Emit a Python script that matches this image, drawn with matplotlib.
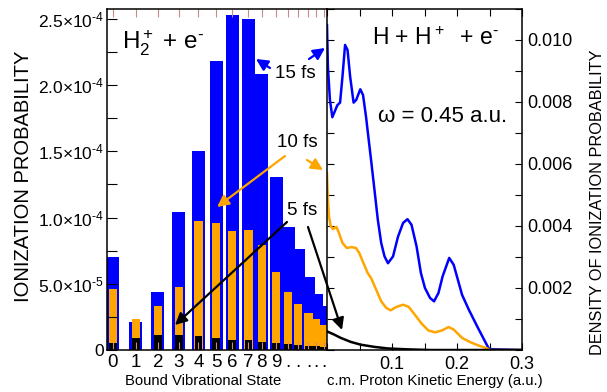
import matplotlib
matplotlib.use('Agg')
import matplotlib.pyplot as plt
from matplotlib.ticker import MultipleLocator

plt.rcParams['font.family'] = ['Liberation Sans', 'DejaVu Sans']
plt.rcParams['mathtext.fontset'] = 'custom'
plt.rcParams['mathtext.rm'] = 'Liberation Sans'
plt.rcParams['mathtext.it'] = 'Liberation Sans:italic'
plt.rcParams['mathtext.bf'] = 'Liberation Sans:bold'

# bound vibrational states of H2+ (left panel), energy above well bottom (eV, approx.)
state_energy = [0.07, 0.34, 0.60, 0.85, 1.08, 1.29, 1.48, 1.67, 1.83, 2.00,
                2.14, 2.26, 2.38, 2.47, 2.56]
state_labels = ['0', '1', '2', '3', '4', '5', '6', '7', '8', '9',
                '.', '.', '.', '.', '.']
prob_15fs = [7.0e-5, 2.09e-5, 4.4e-5, 1.042e-4, 1.505e-4, 2.183e-4, 2.532e-4,
             2.50e-4, 2.085e-4, 1.307e-4, 9.31e-5, 7.6e-5, 5.49e-5, 4.2e-5, 3.32e-5]
prob_10fs = [4.58e-5, 2.32e-5, 3.32e-5, 4.73e-5, 9.74e-5, 9.62e-5, 8.99e-5,
             9.04e-5, 7.93e-5, 5.91e-5, 4.36e-5, 3.45e-5, 2.82e-5, 2.36e-5, 1.89e-5]
prob_5fs = [5.5e-6, 9.3e-6, 1.11e-5, 1.13e-5, 1.06e-5, 9.1e-6, 7.8e-6,
            7.3e-6, 6.3e-6, 5.5e-6, 4.2e-6, 3.8e-6, 3.3e-6, 2.8e-6, 2.3e-6]

# dissociative ionization density vs c.m. proton kinetic energy (right panel)
ke_15fs = [0.0, 0.0014, 0.0045, 0.0082, 0.0118, 0.016, 0.0201, 0.0238, 0.0278,
           0.0316, 0.0356, 0.0409, 0.045, 0.0512, 0.0554, 0.06, 0.0636, 0.0678,
           0.073, 0.0782, 0.0834, 0.0885, 0.0938, 0.1016, 0.1093, 0.1171, 0.1238,
           0.13, 0.1378, 0.1445, 0.1507, 0.1585, 0.1647, 0.1715, 0.1778, 0.188,
           0.1949, 0.2078, 0.2182, 0.2311, 0.2415, 0.2493, 0.3]
dens_15fs = [0.01048, 0.00914, 0.00807, 0.00751, 0.00769, 0.0079, 0.00798, 0.00882,
             0.00984, 0.00968, 0.00882, 0.00798, 0.00807, 0.00841, 0.00823, 0.00753,
             0.00688, 0.00613, 0.00517, 0.0042, 0.00345, 0.00302, 0.0028, 0.00302,
             0.00366, 0.0041, 0.00422, 0.00404, 0.00334, 0.00248, 0.002, 0.00168,
             0.00157, 0.00184, 0.00237, 0.00297, 0.00275, 0.00178, 0.0013, 0.00076,
             0.00034, 0.00003, 0.0]
ke_10fs = [0.0, 0.0014, 0.003, 0.0056, 0.0092, 0.0145, 0.0185, 0.0238, 0.0305,
           0.0378, 0.0445, 0.0496, 0.0549, 0.0627, 0.0678, 0.0756, 0.0834, 0.0911,
           0.0978, 0.1067, 0.1171, 0.1258, 0.1351, 0.1456, 0.156, 0.1663, 0.1767,
           0.1871, 0.1949, 0.2078, 0.2207, 0.2337, 0.2467, 0.25, 0.3]
dens_10fs = [0.0057, 0.00485, 0.00431, 0.0040, 0.0039, 0.00397, 0.00377, 0.00345,
             0.00329, 0.00332, 0.00329, 0.00313, 0.00286, 0.00248, 0.00232, 0.00195,
             0.00157, 0.00136, 0.00128, 0.00139, 0.00146, 0.00139, 0.00114, 0.00085,
             0.00063, 0.00057, 0.00063, 0.00074, 0.00066, 0.00039, 0.00025, 0.00014,
             0.00005, 0.0, 0.0]
ke_5fs = [0.0, 0.0108, 0.0212, 0.0367, 0.0523, 0.073, 0.0938, 0.125, 0.16, 0.3]
dens_5fs = [0.0006, 0.0005, 0.00039, 0.00026, 0.00017, 0.0001, 0.00005, 0.00002,
            0.0, 0.0]

BLUE = '#0000ff'
ORANGE = '#ffa500'
PINK = '#c88a8a'
HY = '\u2010'  # short hyphen used as superscript minus

W, H = 607, 392


def px(x, y):
    # reference pixel (top-left origin) -> figure fraction
    return (x / W, 1 - y / H)


fig = plt.figure(figsize=(W / 100, H / 100), dpi=100)
ax1 = fig.add_axes([107 / W, 1 - 350 / H, 220 / W, 341 / H])
ax2 = fig.add_axes([327 / W, 1 - 350 / H, 195 / W, 341 / H])

# ---- left panel: bound states
ax1.bar(state_energy, prob_15fs, width=0.154, color=BLUE, lw=0)
ax1.bar(state_energy, prob_10fs, width=0.10, color=ORANGE, lw=0)
ax1.bar(state_energy, prob_5fs, width=0.09, color='black', lw=0)
ax1.set_xlim(0, 2.6)
ax1.set_ylim(0, 2.575e-4)
ax1.spines['right'].set_visible(False)
for s in ax1.spines.values():
    s.set_linewidth(1.1)
ax1.set_xticks(state_energy, state_labels)
ax1.tick_params(axis='x', direction='in', length=6, width=0.8, color=PINK,
                top=True, labelsize=13.5, pad=3)
yt = [0, 5e-5, 1e-4, 1.5e-4, 2e-4, 2.5e-4]
ylabels = ['0'] + ['%s×10$^{%s%d}$' % (m, HY, e) for m, e in
                   [('5.0', 5), ('1.0', 4), ('1.5', 4), ('2.0', 4), ('2.5', 4)]]
ax1.set_yticks(yt, ylabels)
ax1.yaxis.set_minor_locator(MultipleLocator(2.5e-5))
ax1.tick_params(axis='y', which='both', direction='in', length=7, width=0.8,
                labelsize=12.5, pad=2)

# ---- right panel: continuum
ax2.plot(ke_15fs, dens_15fs, color=BLUE, lw=1.8)
ax2.plot(ke_10fs, dens_10fs, color=ORANGE, lw=1.8)
ax2.plot(ke_5fs, dens_5fs, color='black', lw=1.8)
ax2.set_xlim(0, 0.3)
ax2.set_ylim(0, 0.011)
for s in ax2.spines.values():
    s.set_linewidth(1.1)
ax2.set_xticks([0.1, 0.2, 0.3], ['0.1', '0.2', '0.3'])
ax2.xaxis.set_minor_locator(MultipleLocator(0.05))
ax2.set_yticks([0.002, 0.004, 0.006, 0.008, 0.010],
               ['0.002', '0.004', '0.006', '0.008', '0.010'])
ax2.yaxis.set_minor_locator(MultipleLocator(0.001))
ax2.tick_params(which='both', direction='in', length=5, width=0.8,
                top=True, left=True, right=True, labelleft=False,
                labelright=True, labelsize=13, pad=4)

# ---- texts
fig.text(*px(122, 50), 'H$_2^+$ + e$^{%s}$' % HY, fontsize=17.5, va='baseline')
fig.text(*px(372, 45), 'H + H$^+$  + e$^{%s}$' % HY, fontsize=16.5, va='baseline')
fig.text(*px(378, 122), 'ω = 0.45 a.u.', fontsize=16, va='baseline')
fig.text(*px(275, 78), '15 fs', fontsize=13.5, va='baseline')
fig.text(*px(277, 147), '10 fs', fontsize=13.5, va='baseline')
fig.text(*px(287, 215), '5 fs', fontsize=13.5, va='baseline')
fig.text(*px(24, 176), 'IONIZATION PROBABILITY', fontsize=14.5, rotation=90,
         ha='center', va='center')
fig.text(*px(598, 202), 'DENSITY OF IONIZATION PROBABILITY', fontsize=11.7,
         rotation=90, ha='center', va='center')
fig.text(*px(203, 381), 'Bound Vibrational State', fontsize=10.7,
         ha='center', va='center')
fig.text(*px(435, 381), 'c.m. Proton Kinetic Energy (a.u.)', fontsize=10.7,
         ha='center', va='center')

# ---- arrows from the pulse-length labels
arrows = [
    ((270, 68), (256, 59), BLUE), ((309, 59), (325, 48), BLUE),
    ((285, 156), (217, 207), ORANGE), ((307, 160), (323, 170), ORANGE),
    ((287, 222), (175, 325), 'black'), ((308, 227), (342, 330), 'black'),
]
for start, end, c in arrows:
    ax2.annotate('', xy=px(*end), xytext=px(*start), xycoords='figure fraction',
                 textcoords='figure fraction', annotation_clip=False,
                 arrowprops=dict(arrowstyle='-|>,head_length=0.5,head_width=0.25',
                                 color=c, lw=1.6, shrinkA=0, shrinkB=0,
                                 mutation_scale=14))

fig.savefig('out.png', dpi=100)
